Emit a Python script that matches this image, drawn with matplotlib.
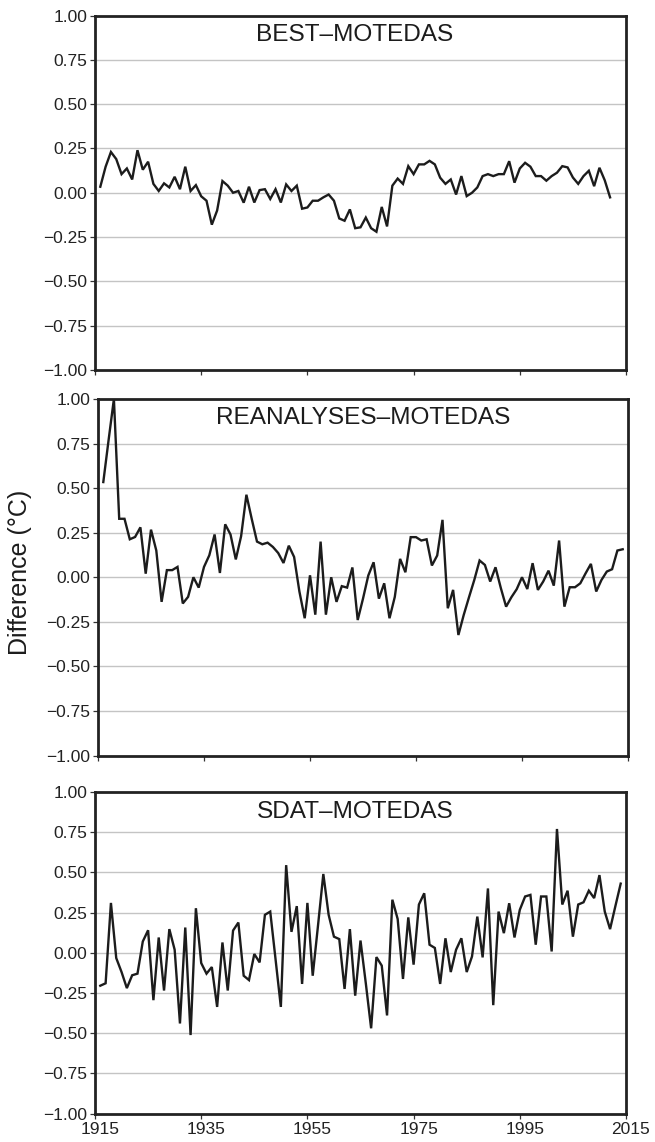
import matplotlib
matplotlib.use("Agg")
import matplotlib.pyplot as plt
from matplotlib.ticker import FixedLocator, FuncFormatter
from matplotlib.transforms import ScaledTranslation

plt.rcParams['font.family'] = ['Liberation Sans', 'DejaVu Sans']
plt.rcParams['axes.unicode_minus'] = True

start_year = 1916

best_motedas = [
    0.034, 0.147, 0.23, 0.19, 0.105, 0.137, 0.075, 0.24, 0.13, 0.175,
    0.05, 0.01, 0.053, 0.03, 0.09, 0.02, 0.147, 0.01, 0.043, -0.02,
    -0.045, -0.18, -0.1, 0.066, 0.04, 0.0, 0.01, -0.056, 0.034, -0.055,
    0.015, 0.02, -0.035, 0.02, -0.055, 0.047, 0.01, 0.04, -0.09, -0.083,
    -0.045, -0.045, -0.026, -0.01, -0.045, -0.145, -0.158, -0.094, -0.2, -0.195,
    -0.14, -0.2, -0.22, -0.08, -0.19, 0.04, 0.08, 0.05, 0.15, 0.105,
    0.16, 0.16, 0.18, 0.16, 0.085, 0.05, 0.075, -0.01, 0.094, -0.019,
    0.0, 0.03, 0.094, 0.105, 0.094, 0.105, 0.105, 0.178, 0.057, 0.137,
    0.169, 0.147, 0.094, 0.094, 0.068, 0.094, 0.113, 0.15, 0.143, 0.086,
    0.05, 0.094, 0.124, 0.037, 0.141, 0.07, -0.026,
]

reanalyses_motedas = [
    0.534, 0.77, 1.0, 0.328, 0.328, 0.213, 0.226, 0.28, 0.02, 0.267,
    0.15, -0.138, 0.04, 0.04, 0.058, -0.147, -0.11, 0.0, -0.058, 0.058,
    0.123, 0.24, 0.024, 0.297, 0.24, 0.1, 0.23, 0.463, 0.328, 0.2,
    0.185, 0.194, 0.17, 0.136, 0.08, 0.177, 0.114, -0.08, -0.23, 0.011,
    -0.21, 0.2, -0.21, 0.0, -0.138, -0.05, -0.058, 0.055, -0.24, -0.12,
    0.01, 0.084, -0.12, -0.034, -0.23, -0.11, 0.103, 0.028, 0.225, 0.225,
    0.206, 0.213, 0.066, 0.122, 0.322, -0.174, -0.071, -0.324, -0.212, -0.112,
    -0.015, 0.094, 0.069, -0.024, 0.056, -0.06, -0.165, -0.112, -0.067, 0.0,
    -0.066, 0.079, -0.071, -0.024, 0.037, -0.047, 0.206, -0.165, -0.056, -0.056,
    -0.034, 0.022, 0.075, -0.08, -0.015, 0.032, 0.045, 0.15, 0.157,
]

sdat_motedas = [
    -0.205, -0.19, 0.31, -0.033, -0.12, -0.22, -0.14, -0.13, 0.07, 0.14,
    -0.295, 0.095, -0.235, 0.147, 0.019, -0.44, 0.157, -0.512, 0.277, -0.064,
    -0.13, -0.089, -0.337, 0.064, -0.235, 0.138, 0.188, -0.143, -0.17, -0.008,
    -0.06, 0.236, 0.256, -0.04, -0.337, 0.545, 0.13, 0.29, -0.194, 0.31,
    -0.143, 0.17, 0.49, 0.236, 0.1, 0.085, -0.225, 0.147, -0.267, 0.076,
    -0.19, -0.47, -0.027, -0.08, -0.39, 0.33, 0.21, -0.163, 0.22, -0.074,
    0.3, 0.37, 0.05, 0.03, -0.194, 0.09, -0.12, 0.019, 0.09, -0.12,
    -0.023, 0.225, -0.029, 0.4, -0.326, 0.256, 0.122, 0.308, 0.095, 0.267,
    0.35, 0.36, 0.05, 0.35, 0.35, 0.008, 0.77, 0.3, 0.386, 0.1,
    0.3, 0.314, 0.386, 0.34, 0.483, 0.256, 0.147, 0.29, 0.43,
]

titles = ["BEST\u2013MOTEDAS", "REANALYSES\u2013MOTEDAS", "SDAT\u2013MOTEDAS"]
series = [best_motedas, reanalyses_motedas, sdat_motedas]
x_ticks = [1915, 1935, 1955, 1975, 1995, 2015]
y_ticks = [-1.0, -0.75, -0.5, -0.25, 0.0, 0.25, 0.5, 0.75, 1.0]
ylabel = "Difference (\u00b0C)"

W, H = 655, 1142
fig = plt.figure(figsize=(W / 100, H / 100), dpi=100)

# panel boxes in pixels: left, right, top, bottom
boxes = [(95, 626, 15.5, 370), (98, 628, 399, 755.5), (95, 626, 792, 1113.5)]
title_dx = [-6, 0, -5.5]


def yfmt(v, pos):
    s = '%.2f' % abs(v)
    return ('\u2212' + s) if v < -1e-9 else s


axes = []
for i, (l, r, t, b) in enumerate(boxes):
    ax = fig.add_axes([l / W, 1 - b / H, (r - l) / W, (b - t) / H])
    vals = series[i]
    yrs = list(range(start_year, start_year + len(vals)))
    ax.plot(yrs, vals, color='#1c1c1c', lw=1.7, solid_joinstyle='miter', zorder=3)
    ax.set_xlim(1915, 2015)
    ax.set_ylim(-1.0, 1.0)
    ax.yaxis.set_major_locator(FixedLocator(y_ticks))
    ax.yaxis.set_major_formatter(FuncFormatter(yfmt))
    ax.xaxis.set_major_locator(FixedLocator(x_ticks))
    for yv in y_ticks[1:-1]:
        ax.axhline(yv, color='#c4c4c4', lw=1.0, zorder=1)
    for s in ax.spines.values():
        s.set_linewidth(2.0)
        s.set_color('#222222')
        s.set_zorder(4)
    ax.tick_params(axis='both', direction='out', length=3.5, width=0.9,
                   color='#333333', labelsize=12.5, labelcolor='#222222', pad=2)
    ax.tick_params(axis='x', pad=2.5)
    if i < 2:
        ax.tick_params(axis='x', labelbottom=False)
    else:
        shift = ScaledTranslation(5 / 100, 0, fig.dpi_scale_trans)
        for lab in ax.get_xticklabels():
            lab.set_transform(lab.get_transform() + shift)
    ax.annotate(titles[i], xy=(0.5, 1.0), xycoords='axes fraction',
                xytext=(title_dx[i] * 0.72, -25.5 * 0.72), textcoords='offset points',
                ha='center', va='baseline', fontsize=17.6, color='#1c1c1c')
    axes.append(ax)

fig.text(20 / W, 1 - 572 / H, ylabel, rotation=90, ha='center', va='center',
         fontsize=18, color='#1c1c1c')

fig.savefig('out.png', dpi=100)
